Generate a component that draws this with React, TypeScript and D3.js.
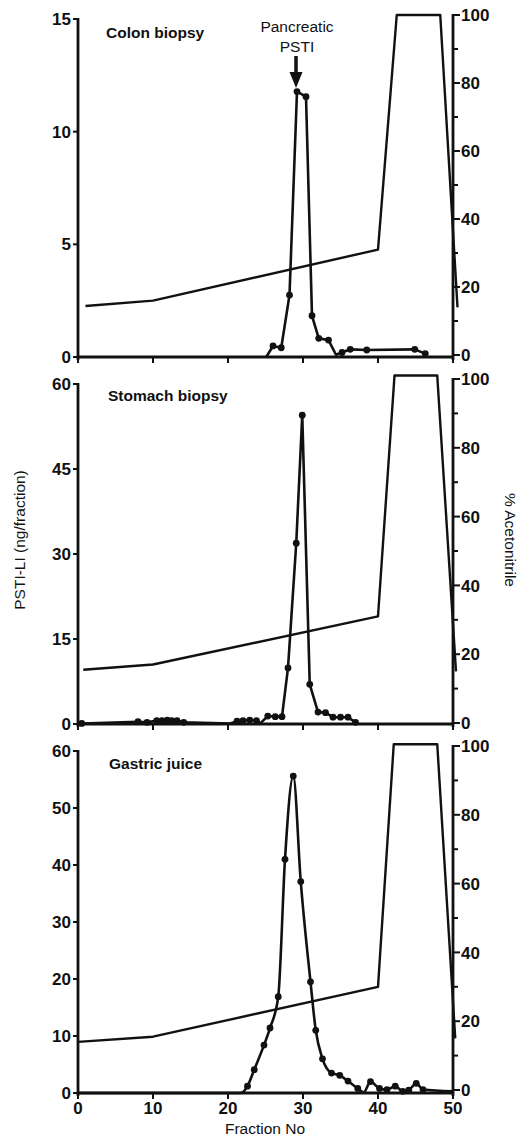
import React from "react";
import * as d3 from "d3";

// ---------- DATA ----------
const fractionTicks = [0, 10, 20, 30, 40, 50];
const acetoTicksMajor = [0, 20, 40, 60, 80, 100];
const acetoTicksMinor = [10, 30, 50, 70, 90];

const colonTicks = [0, 5, 10, 15];
const stomachTicks = [0, 15, 30, 45, 60];
const gastricTicks = [0, 10, 20, 30, 40, 50, 60];

// Colon biopsy PSTI-LI (ng/fraction)
const colonFraction = [25.1, 26.0, 27.1, 28.2, 29.2, 30.4, 31.2, 32.1, 33.4, 34.4, 35.2, 36.3, 38.5, 44.9, 46.3];
const colonValue = [0, 0.49, 0.41, 2.75, 11.78, 11.55, 1.83, 0.83, 0.75, 0.1, 0.2, 0.34, 0.31, 0.34, 0.15];
const colonDots = [false, true, true, true, true, true, true, true, true, false, true, true, true, true, true];

// Stomach biopsy PSTI-LI
const stomachFraction = [0.5, 8.0, 9.2, 10.5, 11.2, 11.9, 12.5, 13.2, 14.1, 20.3, 21.2, 22.0, 22.9, 23.8, 24.3, 25.3, 26.3, 27.2, 28.0, 29.1, 29.9, 30.9, 32.0, 33.0, 34.0, 35.0, 36.0, 37.0];
const stomachValue = [0.1, 0.4, 0.3, 0.6, 0.6, 0.7, 0.6, 0.6, 0.3, 0.1, 0.5, 0.6, 0.7, 0.6, 0.1, 1.4, 1.3, 1.3, 9.9, 31.9, 54.5, 7.0, 2.1, 2.0, 1.2, 1.2, 1.2, 0.3];
const stomachDots = [true, true, true, true, true, true, true, true, true, false, true, true, true, true, false, true, true, true, true, true, true, true, true, true, true, true, true, true];

// Gastric juice PSTI-LI
const gastricFraction = [0, 21.7, 22.6, 23.5, 24.8, 25.6, 26.7, 27.6, 28.7, 29.7, 31.0, 31.7, 32.6, 33.8, 34.9, 36.0, 37.3, 38.1, 39.0, 40.2, 41.2, 42.3, 43.3, 44.1, 45.1, 46.0, 50];
const gastricValue = [0, 0, 1.2, 4.1, 8.4, 11.4, 16.9, 41.0, 55.6, 37.1, 19.5, 11.0, 6.0, 3.5, 3.1, 2.1, 0.8, 0.1, 2.0, 0.8, 0.6, 1.2, 0.3, 0.5, 1.7, 0.6, 0.3];
const gastricDots = [false, false, true, true, true, true, true, true, true, true, true, true, true, true, true, true, true, false, true, true, true, true, true, true, true, true, false];

// Acetonitrile gradient (%) per panel
const colonGradFraction = [1, 10, 40, 42.5, 48.3, 50.6];
const colonGradValue = [14.4, 16, 31, 100, 100, 14];
const stomachGradFraction = [0.7, 10, 40, 42.2, 47.9, 50.4];
const stomachGradValue = [15.5, 17, 31, 101, 101, 15];
const gastricGradFraction = [0, 10, 40, 42.1, 47.9, 50.3];
const gastricGradValue = [14, 15.5, 30, 100.5, 100.5, 15];

// ---------- LAYOUT ----------
const W = 527;
const H = 1138;
const X0 = 78;
const X1 = 453;
const FONT = "'Liberation Sans', Arial, Helvetica, sans-serif";

type Panel = {
  title: string;
  titleX: number;
  titleY: number;
  lTop: number;
  lBottom: number;
  rTop: number;
  rBottom: number;
  yMax: number;
  yTicks: number[];
  fx: number[];
  fy: number[];
  dots: boolean[];
  gx: number[];
  gy: number[];
  smooth: boolean;
  xLabels: boolean;
};

const panels: Panel[] = [
  {
    title: "Colon biopsy", titleX: 106, titleY: 38,
    lTop: 19, lBottom: 357, rTop: 15, rBottom: 355,
    yMax: 15, yTicks: colonTicks,
    fx: colonFraction, fy: colonValue, dots: colonDots,
    gx: colonGradFraction, gy: colonGradValue, smooth: false, xLabels: false,
  },
  {
    title: "Stomach biopsy", titleX: 108, titleY: 401,
    lTop: 384, lBottom: 724, rTop: 379, rBottom: 723,
    yMax: 60, yTicks: stomachTicks,
    fx: stomachFraction, fy: stomachValue, dots: stomachDots,
    gx: stomachGradFraction, gy: stomachGradValue, smooth: false, xLabels: false,
  },
  {
    title: "Gastric juice", titleX: 109, titleY: 769,
    lTop: 751, lBottom: 1093, rTop: 746, rBottom: 1090,
    yMax: 60, yTicks: gastricTicks,
    fx: gastricFraction, fy: gastricValue, dots: gastricDots,
    gx: gastricGradFraction, gy: gastricGradValue, smooth: true, xLabels: true,
  },
];

const x = d3.scaleLinear().domain([0, 50]).range([X0, X1]);

function PanelView({ p }: { p: Panel }) {
  const y = d3.scaleLinear().domain([0, p.yMax]).range([p.lBottom, p.lTop]);
  const yr = d3.scaleLinear().domain([0, 100]).range([p.rBottom, p.rTop]);
  const pts = p.fx.map((f, i) => [f, p.fy[i]] as [number, number]);
  const dataLine = d3
    .line<[number, number]>()
    .x((d) => x(d[0]))
    .y((d) => y(d[1]))
    .curve(p.smooth ? d3.curveMonotoneX : d3.curveLinear);
  const gPts = p.gx.map((f, i) => [f, p.gy[i]] as [number, number]);
  const gradLine = d3
    .line<[number, number]>()
    .x((d) => x(d[0]))
    .y((d) => yr(d[1]));
  const axisY = y(0);
  return (
    <g>
      <path d={gradLine(gPts) || ""} fill="none" stroke="#111" strokeWidth={2.4} strokeLinejoin="round" />
      <path d={dataLine(pts) || ""} fill="none" stroke="#111" strokeWidth={2.6} strokeLinejoin="round" />
      {pts.map((d, i) =>
        p.dots[i] ? <circle key={i} cx={x(d[0])} cy={y(d[1])} r={3.4} fill="#111" /> : null
      )}
      <line x1={X0} x2={X0} y1={p.lTop - 1} y2={axisY + 3} stroke="#111" strokeWidth={2.8} />
      {p.yTicks.map((t) => (
        <g key={"l" + t}>
          <line x1={X0 - 5} x2={X0} y1={y(t)} y2={y(t)} stroke="#111" strokeWidth={2} />
          <text x={71} y={y(t)} dy="0.36em" textAnchor="end" fontFamily={FONT} fontWeight="bold" fontSize={17} fill="#111">
            {t}
          </text>
        </g>
      ))}
      <line x1={X1} x2={X1} y1={p.rTop - 1} y2={axisY + 3} stroke="#111" strokeWidth={2.8} />
      {acetoTicksMajor.map((t) => (
        <g key={"r" + t}>
          <line x1={X1} x2={X1 + 7} y1={yr(t)} y2={yr(t)} stroke="#111" strokeWidth={2} />
          <text x={461} y={yr(t)} dy="0.36em" textAnchor="start" fontFamily={FONT} fontWeight="bold" fontSize={17} fill="#111">
            {t}
          </text>
        </g>
      ))}
      {acetoTicksMinor.map((t) => (
        <line key={"m" + t} x1={X1} x2={X1 + 5} y1={yr(t)} y2={yr(t)} stroke="#111" strokeWidth={2} />
      ))}
      <line x1={X0} x2={X1} y1={axisY} y2={axisY} stroke="#111" strokeWidth={2.8} />
      {fractionTicks.map((t) => (
        <g key={"x" + t}>
          <line x1={x(t)} x2={x(t)} y1={axisY} y2={axisY + 6} stroke="#111" strokeWidth={2} />
          {p.xLabels ? (
            <text x={x(t)} y={1114} textAnchor="middle" fontFamily={FONT} fontWeight="bold" fontSize={17} fill="#111">
              {t}
            </text>
          ) : null}
        </g>
      ))}
      <text x={p.titleX} y={p.titleY} fontFamily={FONT} fontWeight="bold" fontSize={15.5} fill="#111">
        {p.title}
      </text>
    </g>
  );
}

export default function App() {
  return (
    <svg
      width={W}
      height={H}
      viewBox={`0 0 ${W} ${H}`}
      style={{ position: "absolute", left: 0, top: 0, background: "#fff" }}
    >
      <rect x={0} y={0} width={W} height={H} fill="#fff" />
      {panels.map((p, i) => (
        <PanelView key={i} p={p} />
      ))}
      <text x={297} y={32} textAnchor="middle" fontFamily={FONT} fontSize={15.5} fill="#111">
        Pancreatic
      </text>
      <text x={297} y={52} textAnchor="middle" fontFamily={FONT} fontSize={15.5} fill="#111">
        PSTI
      </text>
      <line x1={296} x2={296} y1={56} y2={74} stroke="#111" strokeWidth={3.5} />
      <polygon points="289.5,72 302.5,72 296,88" fill="#111" />
      <text
        transform="translate(25,540) rotate(-90)"
        textAnchor="middle"
        fontFamily={FONT}
        fontSize={15.5}
        fill="#111"
      >
        PSTI-LI (ng/fraction)
      </text>
      <text
        transform="translate(505,540) rotate(90)"
        textAnchor="middle"
        fontFamily={FONT}
        fontSize={15.5}
        fill="#111"
      >
        % Acetonitrile
      </text>
      <text x={265} y={1134} textAnchor="middle" fontFamily={FONT} fontSize={15.5} fill="#111">
        Fraction No
      </text>
    </svg>
  );
}
